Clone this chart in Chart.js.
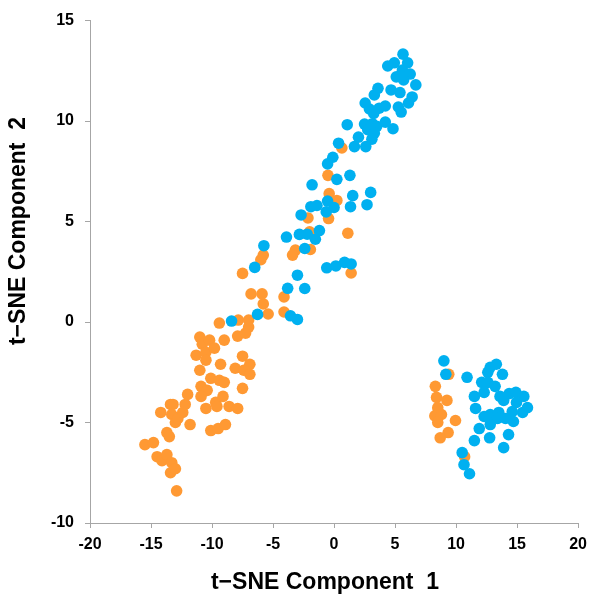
<!DOCTYPE html>
<html>
<head>
<meta charset="utf-8">
<script src="https://cdn.jsdelivr.net/npm/chart.js@4"></script>
<style>
  html, body { margin: 0; padding: 0; background: #fff; }
  #wrap { width: 594px; height: 601px; }
</style>
</head>
<body>
<div id="wrap"><canvas id="tsne" width="594" height="601"></canvas></div>
<script>
// ==================== data ====================

const blueX = [
    5.65, 6.03, 4.94, 4.4, 5.6, 6.24, 5.1, 5.7, 6.7, 3.6, 4.67, 5.4, 3.3, 6.4, 6.1,
    2.55, 2.9, 3.7, 4.2, 5.27, 5.5, 3.25, 1.08, 2.5, 3.14, 4.2, 3.5, 2.76, 4.83, 3.3,
    2.0, 3.1, 0.37, 1.67, 2.6,
    -0.1, -0.53, 0.23, 1.3, -1.8, 1.53, 3.0, 2.7, 1.35, -0.53, -1.4, -1.9, 0.0, -0.64,
    -2.7, -1.2, -2.84, -2.2, -1.53, -3.9, -5.75, -2.4, -6.5, -0.6, 0.15, 0.86, 1.4,
    -3.0, -3.8, -2.4, -6.27, -3.57, -3.0, -8.4,
    9.0, 9.16, 10.9, 12.8, 13.3, 12.6, 13.8, 12.1, 12.6, 13.2, 12.3, 11.5, 13.6, 14.35,
    14.9, 15.55, 13.9, 14.95, 15.85, 15.45, 14.6, 11.6, 12.3, 12.8, 13.5, 12.8, 13.4,
    14.05, 14.7, 11.9, 11.5, 12.75, 14.3, 13.9, 10.5, 10.65, 11.1
];
const blueY = [
    13.33, 12.9, 12.9, 12.74, 12.54, 12.34, 12.2, 12.05, 11.8, 11.63, 11.55, 11.42, 11.3, 11.2, 10.9,
    10.9, 10.6, 10.64, 10.75, 10.7, 10.45, 10.38, 9.82, 9.85, 9.87, 9.95, 9.74, 9.57, 9.62, 9.4,
    9.2, 9.1, 8.9, 8.73, 8.73,
    8.2, 7.87, 7.1, 7.3, 6.83, 6.29, 6.45, 5.84, 5.74, 6.02, 5.8, 5.74, 5.7, 5.48,
    5.33, 4.55, 4.36, 4.37, 4.12, 4.23, 3.8, 3.66, 2.72, 2.7, 2.79, 2.97, 2.89,
    2.33, 1.68, 1.67, 0.38, 0.31, 0.13, 0.05,
    -1.93, -2.6, -2.75, -2.25, -2.1, -2.5, -2.6, -3.0, -3.0, -3.2, -3.5, -3.7, -3.7, -3.56,
    -3.5, -3.7, -3.9, -4.0, -4.26, -4.5, -4.46, -4.3, -4.7, -4.6, -4.5, -5.1, -4.8,
    -4.8, -4.95, -5.3, -5.9, -5.76, -5.6, -6.25, -6.5, -7.1, -7.55
];

const orangeX = [
    -15.5, -14.8, -14.5, -14.1, -13.7, -13.3, -13.4, -13.0, -12.9, -14.2, -13.7, -13.5,
    -13.4, -13.2, -13.3, -13.0, -12.8, -12.4, -12.2, -12.0, -11.8, -11.3, -11.0, -10.8,
    -10.5, -10.5, -10.2, -9.8, -9.4, -9.0, -11.0, -10.1, -9.3, -9.4, -9.0, -10.9, -10.4,
    -10.9, -9.7, -9.6, -9.1, -10.5, -8.6, -7.9, -10.1, -9.5, -8.9, -8.1, -7.5, -6.9,
    -7.4, -6.9, -7.5, -7.9, -7.25, -7.0, -7.85, -7.0, -5.4, -5.8, -6.8, -5.9, -4.1, -4.1,
    0.64, -0.5, -0.4, 0.23, -0.45, -2.14, -2.0, 1.13, -3.17, -3.4, -1.94, -5.8, -6.0,
    -7.5, 1.4,
    9.4, 8.3, 8.4, 9.25, 8.5, 8.26, 8.8, 8.5, 9.95, 9.35, 8.7, 10.7
];
const orangeY = [
    -6.1, -6.0, -6.7, -6.9, -6.6, -7.0, -7.5, -7.3, -8.4, -4.5, -5.5, -5.7,
    -4.1, -4.1, -4.6, -5.0, -4.8, -4.5, -4.1, -3.6, -5.1, -1.65, -0.75, -1.1,
    -1.5, -1.9, -0.9, -1.3, -0.05, -0.9, -2.4, -2.8, -2.1, -2.9, -3.0, -3.2, -3.4,
    -3.7, -4.0, -4.2, -3.7, -4.3, -4.2, -4.3, -5.4, -5.3, -5.1, -2.3, -1.7, -2.1,
    -2.4, -2.6, -3.3, -0.7, -0.55, -0.25, 0.1, 0.1, 0.4, 0.9, 1.4, 1.4, 1.25, 0.5,
    8.66, 7.3, 6.39, 6.05, 5.15, 5.18, 4.49, 4.42, 3.58, 3.33, 3.61, 3.33, 3.1,
    2.42, 2.44,
    -2.6, -3.2, -3.75, -3.9, -4.26, -4.67, -4.6, -5.0, -4.9, -5.5, -5.76, -6.7
];

const xTicks = [-20, -15, -10, -5, 0, 5, 10, 15, 20];
const yTicks = [-10, -5, 0, 5, 10, 15];

const xTitle = 't\u2212SNE Component  1';
const yTitle = 't\u2212SNE Component  2';

// ==================== chart ====================

const toPoints = (xs, ys) => xs.map((x, i) => ({ x, y: ys[i] }));

const axisGrey = '#a6a6a6';
const tickFont = { family: '"Liberation Sans", Arial, sans-serif', size: 16, weight: 'bold' };

// axis titles drawn at fixed spots, they sit a bit off-centre in the original
const axisTitles = {
    id: 'axisTitles',
    afterDraw(chart) {
        const ctx = chart.ctx;
        ctx.save();
        ctx.fillStyle = '#000';
        ctx.font = 'bold 23px "Liberation Sans", Arial, sans-serif';
        ctx.textAlign = 'center';
        ctx.textBaseline = 'middle';
        ctx.fillText(xTitle, 325, 583);
        ctx.translate(19, 231);
        ctx.rotate(-Math.PI / 2);
        ctx.fillText(yTitle, 0, 0);
        ctx.restore();
    }
};

const ctx = document.getElementById('tsne').getContext('2d');

new Chart(ctx, {
    type: 'scatter',
    data: {
        datasets: [
            {
                label: 'blue',
                data: toPoints(blueX, blueY),
                backgroundColor: '#00b0f0',
                borderColor: '#00b0f0',
                pointRadius: 5.8,
                borderWidth: 0
            },
            {
                label: 'orange',
                data: toPoints(orangeX, orangeY),
                backgroundColor: '#ff9933',
                borderColor: '#ff9933',
                pointRadius: 5.8,
                borderWidth: 0
            }
        ]
    },
    options: {
        responsive: false,
        animation: false,
        layout: { padding: { top: 17, right: 12, left: 0, bottom: 0 } },
        plugins: {
            legend: { display: false },
            tooltip: { enabled: false }
        },
        scales: {
            x: {
                type: 'linear',
                min: xTicks[0],
                max: xTicks[xTicks.length - 1],
                afterBuildTicks: s => { s.ticks = xTicks.map(v => ({ value: v })); },
                afterFit: s => { s.height = 78; },
                ticks: { color: '#000', font: tickFont, padding: 7, maxRotation: 0 },
                grid: { drawOnChartArea: false, drawTicks: true, tickLength: 5, color: axisGrey },
                border: { color: axisGrey, width: 1 }
            },
            y: {
                type: 'linear',
                min: yTicks[0],
                max: yTicks[yTicks.length - 1],
                afterBuildTicks: s => { s.ticks = yTicks.map(v => ({ value: v })); },
                afterFit: s => { s.width = 90; },
                ticks: { color: '#000', font: tickFont, padding: 11 },
                grid: { drawOnChartArea: false, drawTicks: true, tickLength: 5, color: axisGrey },
                border: { color: axisGrey, width: 1 }
            }
        }
    },
    plugins: [axisTitles]
});
</script>
</body>
</html>
